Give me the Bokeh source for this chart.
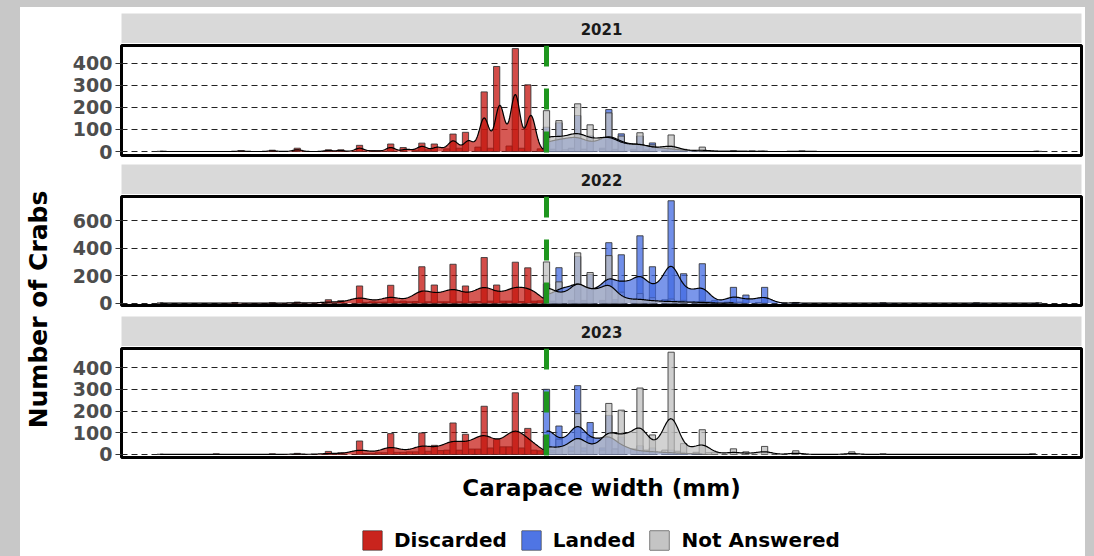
import numpy as np
from bokeh.plotting import figure
from bokeh.models import Range1d, FixedTicker, Legend, LegendItem, Label
from bokeh.layouts import row, column
from bokeh.embed import file_html
from bokeh.resources import INLINE

# ---------------- data ----------------
YEARS = ["2021", "2022", "2023"]
GROUPS = ["Discarded", "Landed", "Not Answered"]
MLS = 140          # minimum landing size (mm) - green dashed line
BIN_WIDTH = 2      # histogram bin width (mm)

# carapace width (mm) and number of crabs, per year and status
disc21_mm = [16, 42, 52, 60, 70, 74, 80, 84, 86, 90, 95, 98, 100, 102, 105, 108, 110, 112, 115, 118,
             120, 122, 125, 128, 130, 132, 135, 138, 139]
disc21_n = [1, 4, 6, 15, 8, 8, 28, 4, 3, 34, 18, 6, 38, 8, 34, 12, 79, 15, 87, 20,
            270, 15, 385, 25, 466, 15, 302, 10, 2]
land21_mm = [140, 142, 145, 148, 150, 152, 155, 158, 160, 162, 165, 168, 170, 172, 175, 178, 180, 182,
             185, 190, 200, 210]
land21_n = [110, 10, 130, 15, 163, 10, 70, 15, 190, 10, 80, 10, 70, 8, 39, 5, 25, 3, 10, 5, 2, 1]
na21_mm = [140, 142, 145, 146, 148, 150, 152, 155, 158, 160, 162, 165, 168, 170, 172, 175, 178, 180,
           185, 190, 200, 206, 222, 298]
na21_n = [185, 10, 140, 8, 12, 216, 10, 121, 10, 175, 8, 70, 6, 85, 5, 30, 4, 75, 5, 20, 3, 3, 3, 1]

disc22_mm = [16, 41, 52, 60, 70, 75, 80, 82, 85, 86, 88, 90, 92, 95, 96, 98, 100, 102, 105, 106,
             108, 110, 112, 115, 116, 118, 120, 122, 125, 126, 128, 130, 132, 135, 136, 138, 139]
disc22_n = [1, 5, 3, 8, 25, 18, 125, 6, 10, 8, 8, 130, 10, 15, 10, 12, 265, 10, 132, 10,
            10, 283, 10, 125, 10, 12, 332, 15, 132, 15, 15, 298, 12, 257, 15, 12, 5]
land22_mm = [140, 142, 145, 148, 150, 152, 155, 158, 160, 162, 165, 168, 170, 172, 175, 178, 180, 182,
             185, 188, 190, 192, 195, 198, 200, 202, 205, 208, 210, 220, 249, 278, 298]
land22_n = [140, 15, 258, 20, 340, 20, 210, 20, 440, 25, 352, 25, 490, 20, 265, 25, 745, 15,
            214, 10, 287, 10, 20, 8, 115, 8, 59, 5, 115, 5, 2, 2, 2]
na22_mm = [140, 142, 145, 148, 150, 152, 155, 158, 160, 162, 165, 170, 175, 180, 185, 190, 200]
na22_n = [300, 10, 155, 10, 366, 10, 223, 10, 346, 8, 80, 70, 40, 30, 20, 15, 5]

disc23_mm = [16, 34, 52, 60, 70, 75, 80, 82, 84, 86, 88, 90, 92, 95, 96, 98, 100, 102, 105, 106,
             108, 110, 112, 115, 116, 118, 120, 122, 125, 126, 128, 130, 132, 135, 136, 138, 139]
disc23_n = [1, 3, 3, 5, 14, 8, 62, 5, 5, 8, 8, 96, 10, 10, 12, 12, 99, 15, 42, 18,
            20, 145, 20, 93, 25, 25, 222, 30, 70, 35, 35, 284, 30, 120, 20, 12, 5]
land23_mm = [140, 142, 145, 148, 150, 152, 155, 158, 160, 162, 165, 170, 175, 180, 185, 190]
land23_n = [300, 20, 131, 35, 317, 30, 147, 30, 180, 25, 80, 40, 30, 20, 10, 5]
na23_mm = [140, 142, 145, 148, 150, 152, 155, 158, 160, 162, 165, 168, 170, 172, 175, 178, 180, 182,
           185, 188, 190, 192, 195, 200, 205, 210, 220, 238, 248, 297]
na23_n = [85, 10, 70, 15, 188, 15, 80, 20, 235, 25, 204, 25, 306, 20, 90, 20, 471, 15,
          50, 10, 114, 8, 10, 26, 12, 37, 17, 12, 3, 3]

Y_TICKS = {"2021": [0, 100, 200, 300, 400], "2022": [0, 200, 400, 600], "2023": [0, 100, 200, 300, 400]}

SERIES = {
    "2021": [(disc21_mm, disc21_n), (land21_mm, land21_n), (na21_mm, na21_n)],
    "2022": [(disc22_mm, disc22_n), (land22_mm, land22_n), (na22_mm, na22_n)],
    "2023": [(disc23_mm, disc23_n), (land23_mm, land23_n), (na23_mm, na23_n)],
}

# ---------------- style ----------------
COLORS = ["#C4120C", "#4169E1", "#BFBFBF"]
BAR_ALPHA, AREA_ALPHA = 0.75, 0.7
BANDWIDTH = {"2021": [1.5, 3.0, 3.0], "2022": [3.0, 2.5, 2.5], "2023": [3.0, 2.5, 2.5]}
Y_RANGES = {"2021": (-18, 480), "2022": (-17, 776), "2023": (-14, 488)}
FRAME_H = {"2021": 110, "2022": 109, "2023": 109}
BOTTOM = {"2021": 9, "2022": 11, "2023": 53}
FONT = "DejaVu Sans"


def histogram(mm, n):
    mm = np.asarray(mm, float)
    n = np.asarray(n, float)
    centers = BIN_WIDTH * np.ceil((mm - BIN_WIDTH / 2) / BIN_WIDTH)
    uniq = np.unique(centers)
    counts = np.array([n[centers == u].sum() for u in uniq])
    return uniq, counts


def density(mm, n, bw):
    mm = np.asarray(mm, float)
    n = np.asarray(n, float)
    xs = np.linspace(mm.min(), mm.max(), 512)
    k = np.exp(-0.5 * ((xs[:, None] - mm[None, :]) / bw) ** 2) / (bw * np.sqrt(2 * np.pi))
    return xs, (k * n[None, :] * BIN_WIDTH).sum(axis=1)


def draw_series(p, year):
    """histogram bars then density areas (+ outlines); returns per-group renderers"""
    bars, areas = [], []
    for gi, (mm, n) in enumerate(SERIES[year]):
        cx, cnt = histogram(mm, n)
        bars.append(p.vbar(x=cx, top=cnt, bottom=0, width=BIN_WIDTH, fill_color=COLORS[gi],
                           fill_alpha=BAR_ALPHA, line_color="#333333", line_width=1, line_alpha=0.85))
    for gi, (mm, n) in enumerate(SERIES[year]):
        xs, ys = density(mm, n, BANDWIDTH[year][gi])
        areas.append(p.varea(x=xs, y1=np.zeros_like(ys), y2=ys, fill_color=COLORS[gi],
                             fill_alpha=AREA_ALPHA))
        p.line(xs, ys, line_color="black", line_width=1.2)
    return bars, areas


x_range = Range1d(3.6, 311.7)


def blank(frame_h, top=0, xr=None, yr=None):
    b = figure(frame_width=960, frame_height=frame_h,
               x_range=xr if xr is not None else Range1d(0, 1),
               y_range=yr if yr is not None else Range1d(0, 1),
               output_backend="svg", toolbar_location=None,
               min_border_left=60, min_border_right=4, min_border_top=top, min_border_bottom=0)
    b.outline_line_color = None
    b.axis.visible = False
    b.grid.visible = False
    return b


def strip(year, top):
    s = blank(30, top)
    s.background_fill_color = "#D9D9D9"
    s.add_layout(Label(x=0.5, y=0.5, text=year, text_align="center", text_baseline="middle",
                       text_font=FONT, text_font_style="bold", text_font_size="15px",
                       text_color="#1A1A1A"))
    return s


def panel(year, last):
    p = figure(frame_width=960, frame_height=FRAME_H[year], x_range=x_range,
               y_range=Range1d(*Y_RANGES[year]), output_backend="svg", toolbar_location=None,
               min_border_left=60, min_border_right=4, min_border_top=2,
               min_border_bottom=BOTTOM[year])
    p.outline_line_color = "black"
    p.outline_line_width = 3
    p.xgrid.visible = False
    p.ygrid.grid_line_color = "#222222"
    p.ygrid.grid_line_dash = "6 4"
    p.ygrid.grid_line_width = 1
    p.yaxis.ticker = FixedTicker(ticks=Y_TICKS[year])
    p.yaxis.axis_line_color = None
    p.yaxis.major_tick_out = 6
    p.yaxis.major_tick_in = 0
    p.yaxis.major_tick_line_color = "#333333"
    p.yaxis.minor_tick_line_color = None
    p.yaxis.major_label_standoff = 3
    p.yaxis.major_label_text_font = FONT
    p.yaxis.major_label_text_font_style = "bold"
    p.yaxis.major_label_text_font_size = "19px"
    p.yaxis.major_label_text_color = "#4D4D4D"

    draw_series(p, year)
    p.segment(x0=[MLS], y0=[Y_RANGES[year][1]], x1=[MLS], y1=[Y_RANGES[year][0]],
              line_color="#1E961E", line_width=5, line_dash="21 22")

    if last:
        p.xaxis.ticker = FixedTicker(ticks=[])
        p.xaxis.axis_line_color = None
        p.xaxis.major_tick_out = 0
        p.xaxis.major_tick_in = 0
        p.xaxis.major_label_standoff = 0
        p.xaxis.axis_label = "Carapace width (mm)"
        p.xaxis.axis_label_standoff = 17
        p.xaxis.axis_label_text_font = FONT
        p.xaxis.axis_label_text_font_style = "bold"
        p.xaxis.axis_label_text_font_size = "23px"
        p.xaxis.axis_label_text_color = "black"
    else:
        p.xaxis.visible = False
    return p


def legend_strip():
    # the same series drawn again, but with a y range that keeps them out of view:
    # their renderers only supply the legend keys (bar + density fill, like ggplot)
    b = blank(46, xr=x_range, yr=Range1d(2000, 2001))
    bars, areas = draw_series(b, YEARS[-1])
    items = [LegendItem(label=g, renderers=[bars[i], areas[i]]) for i, g in enumerate(GROUPS)]
    legend = Legend(items=items, location=(239, 4), orientation="horizontal",
                    glyph_width=24, glyph_height=24, label_standoff=10, spacing=12,
                    padding=0, margin=0, border_line_color=None, background_fill_alpha=0,
                    label_text_font=FONT, label_text_font_style="bold",
                    label_text_font_size="20px", label_text_color="black")
    b.add_layout(legend)
    return b


left = figure(frame_width=41, frame_height=549, x_range=Range1d(0, 41), y_range=Range1d(0, 549),
              output_backend="svg", toolbar_location=None, min_border_left=0, min_border_right=0,
              min_border_top=0, min_border_bottom=0)
left.outline_line_color = None
left.axis.visible = False
left.grid.visible = False
left.add_layout(Label(x=18, y=247, text="Number of Crabs", angle=np.pi / 2, text_align="center",
                      text_baseline="middle", text_font=FONT, text_font_style="bold",
                      text_font_size="25px", text_color="black"))

children = []
for i, y in enumerate(YEARS):
    children.append(strip(y, 6 if i == 0 else 0))
    children.append(panel(y, i == len(YEARS) - 1))
children.append(legend_strip())

col = column(*children)
inner = row(left, col, margin=(7, 9, 0, 20), styles={"background-color": "white"})
root = row(inner, styles={"background-color": "#C8C8C8"})

open("out.html", "w").write(file_html(root, INLINE))
